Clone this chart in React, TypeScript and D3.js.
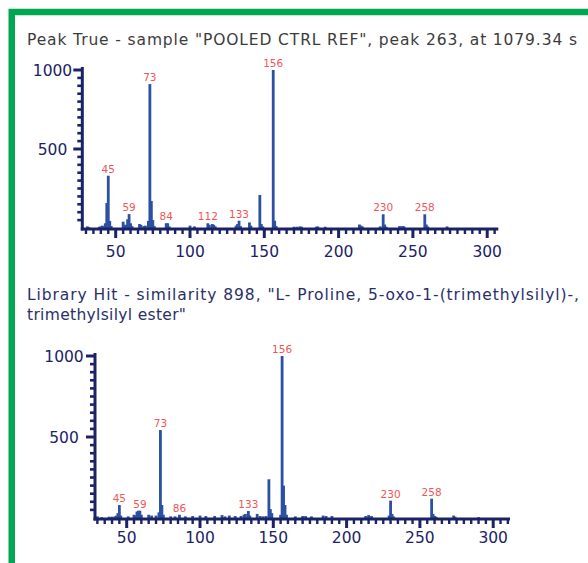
import React from 'react';
import * as d3 from 'd3';

// sample spectrum (m/z, relative intensity)
const sampleMz = [31, 32, 39, 40, 41, 42, 43, 44, 45, 46, 47, 55, 56, 57, 58, 59, 60, 61, 66, 67, 69, 70, 72, 73, 74, 75, 76, 84, 85, 86, 100, 103, 112, 113, 115, 116, 117, 131, 132, 133, 134, 140, 141, 147, 148, 149, 156, 157, 158, 170, 172, 174, 175, 185, 186, 191, 214, 215, 216, 228, 230, 231, 232, 241, 243, 244, 258, 259, 260, 273];
const sampleInt = [10, 5, 8, 10, 15, 10, 30, 158, 331, 45, 12, 40, 20, 20, 55, 88, 30, 12, 25, 20, 12, 15, 45, 911, 171, 50, 12, 30, 30, 10, 15, 10, 30, 20, 25, 20, 10, 15, 25, 46, 12, 35, 15, 209, 25, 10, 1000, 46, 12, 8, 8, 10, 8, 8, 10, 8, 22, 15, 10, 10, 87, 22, 8, 12, 12, 10, 87, 22, 10, 10];
const sampleLabels = [45, 59, 73, 84, 112, 133, 156, 230, 258];

// library spectrum
const libMz = [30, 33, 38, 40, 42, 43, 44, 45, 46, 51, 55, 56, 57, 58, 59, 60, 65, 67, 70, 72, 73, 74, 75, 80, 83, 86, 90, 95, 100, 104, 110, 115, 117, 120, 124, 128, 130, 131, 133, 134, 139, 141, 143, 145, 147, 148, 149, 155, 156, 157, 158, 159, 165, 170, 172, 176, 184, 186, 190, 213, 215, 217, 229, 230, 231, 232, 258, 259, 260, 261, 273, 274, 290];
const libInt = [10, 5, 8, 8, 10, 15, 30, 80, 15, 10, 20, 15, 40, 45, 45, 20, 20, 15, 15, 35, 543, 80, 20, 10, 10, 20, 10, 12, 15, 12, 12, 18, 10, 15, 12, 12, 20, 25, 43, 15, 25, 12, 10, 12, 239, 55, 30, 20, 1000, 200, 80, 20, 10, 12, 12, 10, 15, 12, 12, 12, 18, 12, 15, 107, 25, 10, 119, 25, 12, 8, 15, 8, 5];
const libLabels = [45, 59, 73, 86, 133, 156, 230, 258];

const xTicks = [50, 100, 150, 200, 250, 300];
const yTicks = [500, 1000];

const AXIS = '#1b2366';
const BAR = '#2c50a2';
const LABEL = '#f05656';
const TICKFONT = '"DejaVu Sans", sans-serif';
const TITLEFONT = '"DejaVu Sans", sans-serif';

type SpecProps = {
  mz: number[];
  inten: number[];
  labels: number[];
  xRange: [number, number];
  yRange: [number, number];
  axisLeft: number;
  axisRight: number;
  xLabelDy: number;
  yLabelX: number;
};

const Spectrum = ({ mz, inten, labels, xRange, yRange, axisLeft, axisRight, xLabelDy, yLabelX }: SpecProps) => {
  const x = d3.scaleLinear().domain([0, 300]).range(xRange);
  const y = d3.scaleLinear().domain([0, 1000]).range(yRange);
  const y0 = y(0);
  const lo = Math.ceil(x.invert(axisLeft) / 5) * 5;
  const hi = x.invert(axisRight - 2);
  const minorX = d3.range(lo, hi, 5).filter(v => v % 50 !== 0);
  const minorY = d3.range(50, 1000, 50).filter(v => v % 500 !== 0);
  const peaks = mz.map((m, i) => ({ m, v: inten[i] }));

  return (
    <g>
      {peaks.map(p => (
        <rect key={p.m} x={x(p.m) - 1.4} y={y(p.v)} width={2.8} height={y0 - y(p.v)} fill={BAR} />
      ))}
      {peaks.filter(p => labels.includes(p.m)).map(p => (
        <text key={'l' + p.m} x={x(p.m)} y={y(p.v) - 3} textAnchor="middle" fontSize={10.5}
          fontFamily={TICKFONT} fill={LABEL}>{p.m}</text>
      ))}
      {/* x axis */}
      <line x1={axisLeft - 1.5} x2={axisRight} y1={y0 + 1} y2={y0 + 1} stroke={AXIS} strokeWidth={3} />
      {minorX.map(v => (
        <line key={'mx' + v} x1={x(v)} x2={x(v)} y1={y0} y2={y0 + 6} stroke={AXIS} strokeWidth={2.4} />
      ))}
      {xTicks.map(v => (
        <g key={'x' + v}>
          <line x1={x(v)} x2={x(v)} y1={y0} y2={y0 + 10} stroke={AXIS} strokeWidth={3} />
          <text x={x(v)} y={y0 + xLabelDy} textAnchor="middle" fontSize={15.5} fontFamily={TICKFONT} fill={AXIS}>{v}</text>
        </g>
      ))}
      {/* y axis */}
      <line x1={axisLeft} x2={axisLeft} y1={y0 + 2.5} y2={y(1000) - 3} stroke={AXIS} strokeWidth={3} />
      {minorY.map(v => (
        <line key={'my' + v} x1={axisLeft - 5} x2={axisLeft} y1={y(v)} y2={y(v)} stroke={AXIS} strokeWidth={2.6} />
      ))}
      {yTicks.map(v => (
        <g key={'y' + v}>
          <line x1={axisLeft - 9} x2={axisLeft} y1={y(v)} y2={y(v)} stroke={AXIS} strokeWidth={3} />
          <text x={yLabelX} y={y(v)} dy="0.36em" textAnchor="middle" fontSize={15.5} fontFamily={TICKFONT} fill={AXIS}>{v}</text>
        </g>
      ))}
    </g>
  );
};

export default function App() {
  return (
    <svg width={588} height={563} style={{ position: 'absolute', left: 0, top: 0, background: '#fff' }}>
      <rect x={11.75} y={12} width={700} height={700} fill="none" stroke="#00a651" strokeWidth={6.5} />
      <text x={27} y={45} fontSize={15.5} fontFamily={TITLEFONT} fill="#3c3c3c"
        textLength={550} lengthAdjust="spacing">
        Peak True - sample "POOLED CTRL REF", peak 263, at 1079.34 s
      </text>
      <Spectrum mz={sampleMz} inten={sampleInt} labels={sampleLabels}
        xRange={[41.4, 487.2]} yRange={[228, 70]} axisLeft={82.3} axisRight={498.3}
        xLabelDy={29} yLabelX={52.5} />
      <text x={27} y={300} fontSize={15.5} fontFamily={TITLEFONT} fill="#2b2f68"
        textLength={552} lengthAdjust="spacing">
        Library Hit - similarity 898, "L- Proline, 5-oxo-1-(trimethylsilyl)-,
      </text>
      <text x={27} y={320} fontSize={15.5} fontFamily={TITLEFONT} fill="#2b2f68"
        textLength={159} lengthAdjust="spacing">
        trimethylsilyl ester"
      </text>
      <Spectrum mz={libMz} inten={libInt} labels={libLabels}
        xRange={[53.4, 493.2]} yRange={[518, 356]} axisLeft={95} axisRight={510}
        xLabelDy={25} yLabelX={64} />
    </svg>
  );
}
